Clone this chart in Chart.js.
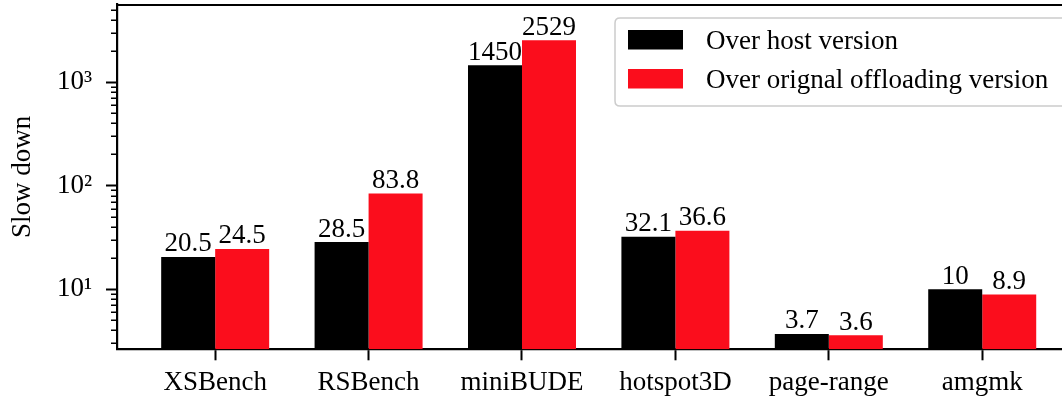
<!DOCTYPE html>
<html><head><meta charset="utf-8">
<script src="https://cdn.jsdelivr.net/npm/chart.js@4/dist/chart.umd.min.js"></script>
<style>
html,body{margin:0;padding:0;background:#fff;overflow:hidden;}
#wrap{width:1090px;height:399px;position:relative;}
canvas{display:block;}
</style></head><body>
<div id="wrap"><canvas id="c" width="1090" height="399"></canvas></div>
<script>
const categories = ['XSBench','RSBench','miniBUDE','hotspot3D','page-range','amgmk'];
const overHost = [20.5, 28.5, 1450, 32.1, 3.7, 10];
const overOffload = [24.5, 83.8, 2529, 36.6, 3.6, 8.9];
const seriesNames = ['Over host version','Over orignal offloading version'];
const seriesColors = ['#000000','#fb0d1c'];
const yMajorTicks = [10, 100, 1000];
const yTickLabels = ['10\u00B9','10\u00B2','10\u00B3'];
const yMin = 2.63, yMax = 5600;

const FONT = 'Liberation Serif, Times New Roman, serif';
const FS = 27;

// tick positions: mantissas 1..9 in each decade within range
const yAllTicks = [];
for (let e = 0; e <= 3; e++) {
  for (let m = 1; m <= 9; m++) {
    const v = m * Math.pow(10, e);
    if (v >= yMin && v <= yMax) yAllTicks.push(v);
  }
}
function majorIndex(v) {
  return yMajorTicks.findIndex(t => Math.abs(t - v) < 1e-6 * t);
}

const framePlugin = {
  id: 'frame',
  afterDraw(chart) {
    const {ctx, chartArea: a, scales} = chart;
    ctx.save();
    // top and right spines
    ctx.strokeStyle = '#000';
    ctx.lineWidth = 2.2;
    ctx.beginPath();
    ctx.moveTo(a.left - 1, Math.round(a.top));
    ctx.lineTo(a.right + 1, Math.round(a.top));
    ctx.moveTo(a.right, a.top);
    ctx.lineTo(a.right, a.bottom);
    ctx.stroke();
    // minor y ticks
    const ys = scales.y;
    ctx.lineWidth = 1.6;
    ctx.beginPath();
    ys.ticks.forEach(t => {
      if (majorIndex(t.value) >= 0) return;
      const py = Math.round(ys.getPixelForValue(t.value)) + 0.25;
      ctx.moveTo(a.left - 6, py);
      ctx.lineTo(a.left, py);
    });
    ctx.stroke();
    // legend
    const lx = 615, ly = 18, lw = 457, lh = 88, r = 5;
    ctx.beginPath();
    ctx.moveTo(lx + r, ly);
    ctx.lineTo(lx + lw - r, ly);
    ctx.quadraticCurveTo(lx + lw, ly, lx + lw, ly + r);
    ctx.lineTo(lx + lw, ly + lh - r);
    ctx.quadraticCurveTo(lx + lw, ly + lh, lx + lw - r, ly + lh);
    ctx.lineTo(lx + r, ly + lh);
    ctx.quadraticCurveTo(lx, ly + lh, lx, ly + lh - r);
    ctx.lineTo(lx, ly + r);
    ctx.quadraticCurveTo(lx, ly, lx + r, ly);
    ctx.closePath();
    ctx.fillStyle = 'rgba(255,255,255,0.85)';
    ctx.fill();
    ctx.strokeStyle = '#cccccc';
    ctx.lineWidth = 1.5;
    ctx.stroke();
    ctx.font = FS + 'px ' + FONT;
    ctx.textAlign = 'left';
    ctx.textBaseline = 'alphabetic';
    chart.data.datasets.forEach((ds, i) => {
      const py = 30 + i * 39;
      ctx.fillStyle = ds.backgroundColor;
      ctx.fillRect(628, py, 55, 19.5);
      ctx.fillStyle = '#000';
      ctx.fillText(ds.label, 706, py + 19.3);
    });
    ctx.restore();
  },
  afterDatasetsDraw(chart) {
    const {ctx} = chart;
    ctx.save();
    ctx.font = FS + 'px ' + FONT;
    ctx.fillStyle = '#000';
    ctx.textAlign = 'center';
    ctx.textBaseline = 'alphabetic';
    chart.data.datasets.forEach((ds, d) => {
      const meta = chart.getDatasetMeta(d);
      meta.data.forEach((el, i) => {
        ctx.fillText(String(ds.data[i].y), el.x, el.y - 5.5);
      });
    });
    ctx.restore();
  }
};

new Chart(document.getElementById('c'), {
  type: 'bar',
  data: {
    datasets: [
      {label: seriesNames[0], data: overHost.map((v, i) => ({x: i, y: v})),
       backgroundColor: seriesColors[0], borderWidth: 0, categoryPercentage: 0.704, barPercentage: 1.0},
      {label: seriesNames[1], data: overOffload.map((v, i) => ({x: i, y: v})),
       backgroundColor: seriesColors[1], borderWidth: 0, categoryPercentage: 0.704, barPercentage: 1.0}
    ]
  },
  options: {
    responsive: false,
    animation: false,
    devicePixelRatio: 1,
    layout: {padding: {left: 0, right: 9.6, top: 4.5, bottom: 0}},
    plugins: {legend: {display: false}, tooltip: {enabled: false}},
    scales: {
      x: {
        type: 'linear', min: -0.64, max: 5.64, offset: false,
        afterBuildTicks: s => { s.ticks = categories.map((_, i) => ({value: i})); },
        afterFit: s => { s.height = 49.7; s.paddingLeft = 0; s.paddingRight = 0; },
        grid: {offset: false, drawOnChartArea: false, drawTicks: true, tickLength: 11, tickWidth: 2, tickColor: '#000'},
        border: {display: true, color: '#000', width: 2.2},
        ticks: {
          callback: v => (categories[v] !== undefined ? categories[v] : ''),
          font: {family: FONT, size: FS}, color: '#000', padding: 6,
          maxRotation: 0, minRotation: 0, autoSkip: false
        }
      },
      y: {
        type: 'logarithmic', min: yMin, max: yMax,
        afterBuildTicks: s => { s.ticks = yAllTicks.map(v => ({value: v})); },
        afterFit: s => { s.width = 117; s.paddingTop = 0; s.paddingBottom = 0; },
        grid: {drawOnChartArea: false, drawTicks: true, tickLength: 11, tickWidth: 2,
               tickColor: c => (c.tick && majorIndex(c.tick.value) >= 0 ? '#000' : 'rgba(0,0,0,0)')},
        border: {display: true, color: '#000', width: 2.2},
        ticks: {
          callback: v => { const k = majorIndex(v); return k >= 0 ? yTickLabels[k] : ''; },
          font: {family: FONT, size: FS}, color: '#000', padding: 14, autoSkip: false
        },
        title: {display: true, text: 'Slow down', color: '#000',
                font: {family: FONT, size: FS}, padding: {top: 7, bottom: 0}}
      }
    }
  },
  plugins: [framePlugin]
});
</script>
</body></html>
